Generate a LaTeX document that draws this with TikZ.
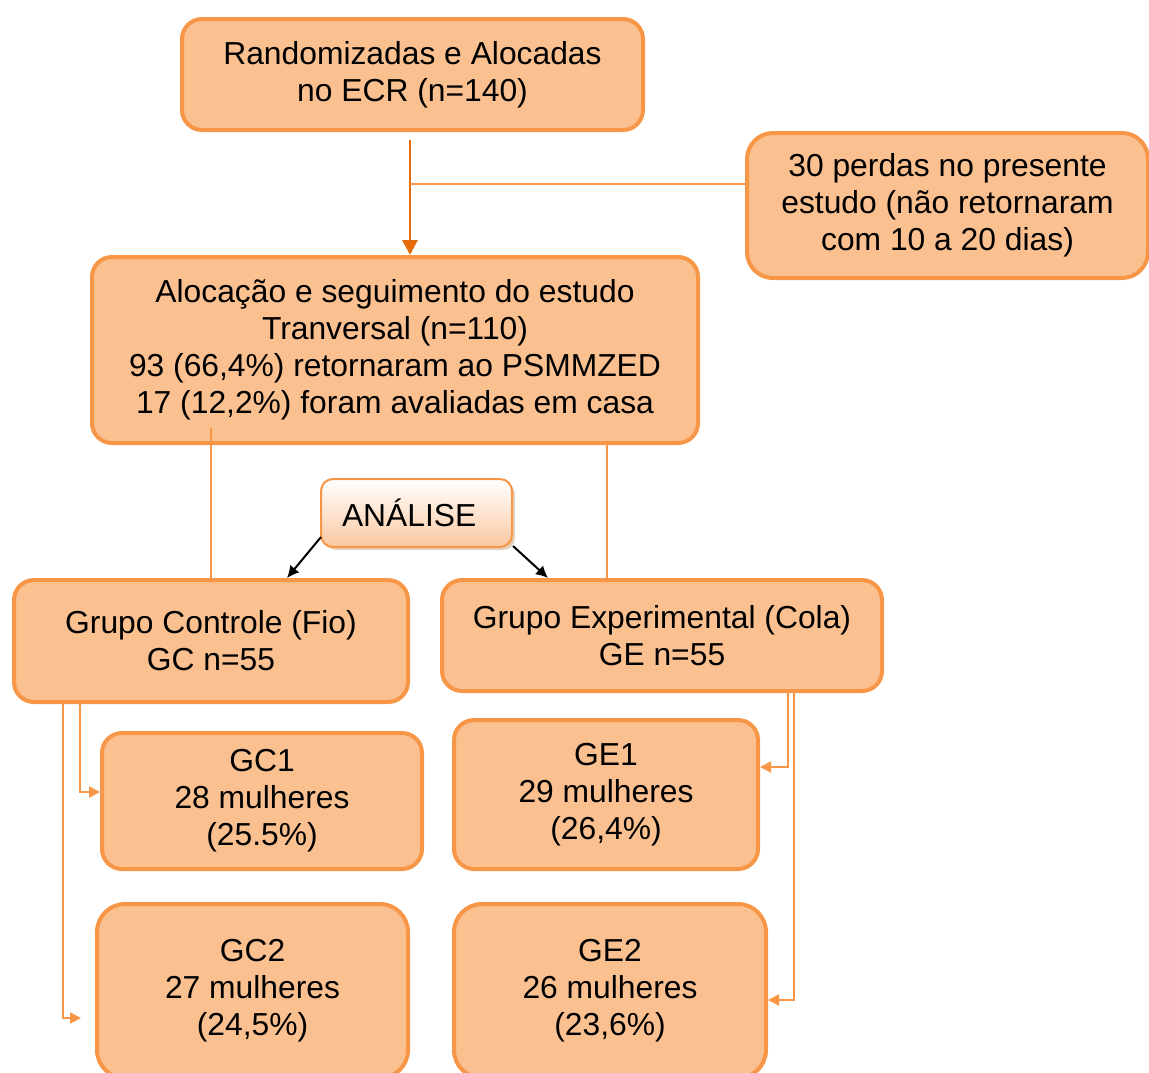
\documentclass[tikz,border=0pt]{standalone}
\usepackage{fontspec}
\setmainfont{Liberation Sans}
\usetikzlibrary{shapes.geometric, arrows.meta, positioning, shadows}
\definecolor{boxfill}{HTML}{FAC090}
\definecolor{boxline}{HTML}{F79646}
\definecolor{darkline}{HTML}{E46C0A}
\definecolor{shadowc}{HTML}{C9A37F}
\definecolor{shadebottom}{HTML}{FBC8A0}
\tikzstyle{stage} = [rectangle, rounded corners=10pt, draw=boxline, line width=2pt, fill=boxfill, text centered, align=center, inner sep=0pt]
\tikzstyle{subgroup} = [stage, rounded corners=14pt]
\tikzstyle{analysis} = [rectangle, rounded corners=6pt, draw=boxline, line width=1pt, top color=white, bottom color=shadebottom, drop shadow={shadow xshift=1.5pt, shadow yshift=-1.5pt, fill=shadowc}, align=left, text width=74.5pt, inner xsep=10.5pt, minimum height=34pt]
\tikzstyle{flow} = [line width=1.4pt, draw=darkline, -{Triangle[length=7.5pt,width=7.5pt]}]
\tikzstyle{link} = [line width=1pt, draw=boxline]
\tikzstyle{branch} = [link, -{Triangle[length=5.5pt,width=5.5pt]}]
\tikzstyle{split} = [line width=1pt, draw=black, -{Latex[length=6pt,width=6pt]}]

\begin{document}
\begin{tikzpicture}[font=\fontsize{15.9}{18.5}\selectfont]
  \useasboundingbox (0,0) rectangle (574.5pt,-536pt);
  \node (rand) [stage, minimum width=230.5pt, minimum height=55.5pt] at (206.25pt,-37.25pt) {Randomizadas e Alocadas\\no ECR (n=140)};
  \node (perdas) [stage, rounded corners=13pt, minimum width=200.5pt, minimum height=72.5pt, right=50pt of rand, yshift=-65.5pt] {30 perdas no presente\\estudo (não retornaram\\com 10 a 20 dias)};
  \node (aloc) [stage, minimum width=303pt, minimum height=93pt, below=61.5pt of rand, xshift=-8.75pt] {Alocação e seguimento do estudo\\Tranversal (n=110)\\93 (66,4\%) retornaram ao PSMMZED\\17 (12,2\%) foram avaliadas em casa};
  \coordinate (drop) at ([xshift=-1.25pt]rand.south);
  \coordinate (lossin) at ([yshift=10.75pt]perdas.west);
  \draw [flow] ([yshift=-4pt]drop) -- (drop |- aloc.north);
  \draw [link] (lossin) -- (lossin -| drop);
  %grupos
  \node (gc) [stage, minimum width=197pt, minimum height=61pt, below=66.5pt of aloc, xshift=-92pt] {Grupo Controle (Fio)\\GC n=55};
  \node (ge) [stage, minimum width=220pt, minimum height=55.5pt, right=15pt of gc, yshift=2.75pt] {Grupo Experimental (Cola)\\GE n=55};
  \coordinate (gecut) at ([xshift=-27.5pt]ge.north);
  \draw [link] ([yshift=8.5pt]aloc.south -| gc.north) -- (gc.north);
  \draw [link] (aloc.south -| gecut) -- (gecut);
  \node (analise) [analysis, below=16.5pt of aloc, xshift=10.75pt] {ANÁLISE};
  \draw [split] ([xshift=0.5pt,yshift=5.5pt]analise.south west) -- ([xshift=38pt]gc.north);
  \draw [split] ([yshift=1pt]analise.south east) -- ([xshift=54pt]ge.north west);
  %subgrupos
  \node (gc1) [stage, minimum width=160pt, minimum height=68pt, below=13.5pt of gc, xshift=25.5pt] {GC1\\28 mulheres\\(25.5\%)};
  \node (ge1) [stage, minimum width=152pt, minimum height=74.5pt, below=12.5pt of ge, xshift=-28pt] {GE1\\29 mulheres\\(26,4\%)};
  \node (gc2) [subgroup, minimum width=155.5pt, minimum height=87pt, below=15.5pt of gc1, xshift=-4.75pt] {GC2\\27 mulheres\\(24,5\%)};
  \node (ge2) [subgroup, minimum width=156pt, minimum height=87pt, below=15.5pt of ge1, xshift=2pt] {GE2\\26 mulheres\\(23,6\%)};
  \coordinate (gcA) at ([xshift=-65.5pt]gc.south);
  \coordinate (gcB) at ([xshift=-74pt]gc.south);
  \coordinate (gcend) at ([xshift=-7pt,yshift=-13.5pt]gc2.west);
  \coordinate (geA) at ([xshift=63pt]ge.south);
  \coordinate (geB) at ([xshift=66pt]ge.south);
  \draw [branch] (gcA) |- ([yshift=4.5pt]gc1.west);
  \draw [branch] (gcB) |- (gcend);
  \draw [branch] (geA) |- ([yshift=13.75pt]ge1.east);
  \draw [branch] (geB) |- ([yshift=-4.5pt]ge2.east);
\end{tikzpicture}
\end{document}
